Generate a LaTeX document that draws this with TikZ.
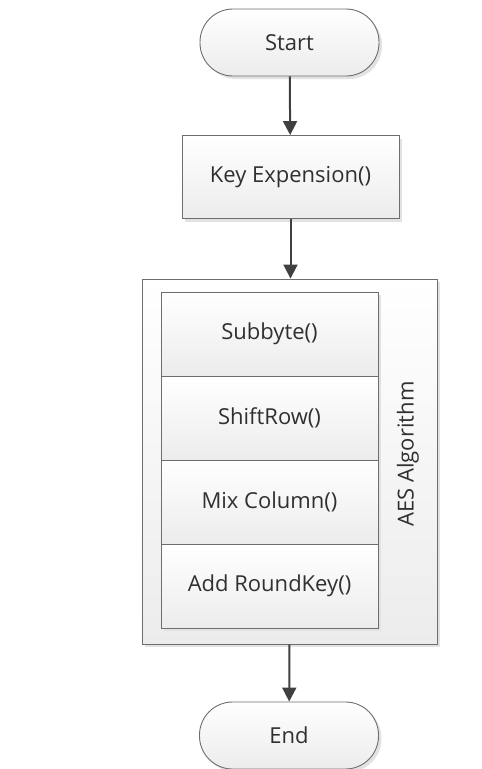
\documentclass[tikz,border=0pt]{standalone}
\usepackage{fontspec}
\setmainfont{Open Sans}
\usetikzlibrary{arrows.meta,shadows}
\definecolor{edge}{HTML}{6E6E6E}
\definecolor{ink}{HTML}{303030}
\definecolor{wire}{HTML}{404040}
\definecolor{shade}{HTML}{ECECEC}
\definecolor{shadowgray}{HTML}{E2E2E2}
\tikzset{
  labelfont/.style={font=\fontsize{22}{26}\selectfont},
  boxbase/.style={draw=edge, line width=0.9pt, top color=white, bottom color=shade,
    text=ink, labelfont, inner sep=0pt,
    drop shadow={shadow xshift=3pt, shadow yshift=-3pt, fill=shadowgray, opacity=1}},
  terminal/.style={boxbase, rectangle, rounded corners=33pt, minimum width=179pt, minimum height=67pt},
  process/.style={boxbase, rectangle, minimum width=217pt, minimum height=83pt},
  cell/.style={boxbase, rectangle, minimum width=217pt, minimum height=84pt},
  group/.style={boxbase, rectangle, minimum width=295pt, minimum height=365pt},
  flow/.style={draw=wire, line width=2pt, -{Triangle[length=14pt,width=14pt]}}
}
\begin{document}
\begin{tikzpicture}[x=1pt,y=-1pt]
  \useasboundingbox (0,0) rectangle (482,769);
  % terminals and steps
  \node[terminal] (start) at (289.5,42.5) {Start};
  \node[process] (key) at (290.5,177) {Key Expension()};
  % AES round block with its four stages
  \node[group] (aes) at (289.5,461.5) {};
  \node[cell] (sub) at (269.5,334) {Subbyte()};
  \node[cell] (shift) at (269.5,418) {ShiftRow()};
  \node[cell] (mix) at (269.5,502) {Mix Column()};
  \node[cell] (add) at (269.5,586) {Add RoundKey()};
  \node[rotate=90, text=ink, labelfont, inner sep=0pt] (aeslabel) at (408,454) {AES Algorithm};
  \node[terminal] (end) at (289,735.5) {End};
  % connectors
  \draw[flow] (start) -- (key);
  \draw[flow] (key) -- (aes.north -| key);
  \draw[flow] (aes.south) -- (end);
\end{tikzpicture}
\end{document}
